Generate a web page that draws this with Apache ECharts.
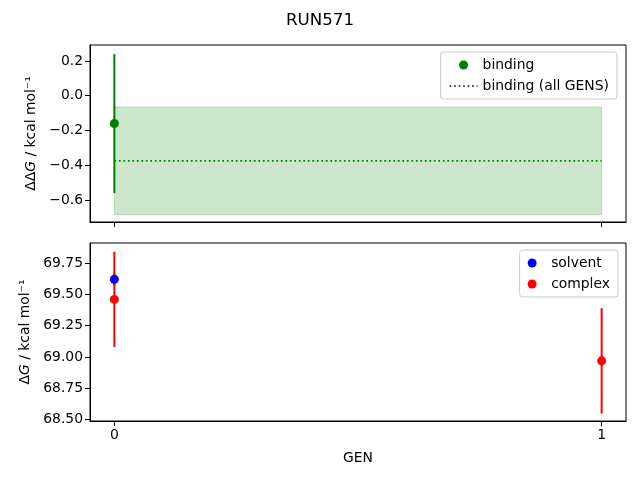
<!DOCTYPE html>
<html><head><meta charset="utf-8">
<script src="https://cdn.jsdelivr.net/npm/echarts@6/dist/echarts.min.js"></script>
<style>html,body{margin:0;padding:0;background:#fff}#c{width:640px;height:480px}</style>
</head><body><div id="c"></div>
<script>
// ---- data ----
const genTicks = [0, 1];
const bindingGen = [0];
const bindingVal = [-0.16];
const bindingErr = [0.40];
const allGensMean = -0.375;
const allGensErr = 0.31;
const allGensSpan = [0, 1];
const solventGen = [0];
const solventVal = [69.62];
const solventErr = [0.05];
const complexGen = [0, 1];
const complexVal = [69.46, 68.97];
const complexErr = [0.38, 0.42];
const topTicks = [-0.6, -0.4, -0.2, 0.0, 0.2];
const bottomTicks = [68.50, 68.75, 69.00, 69.25, 69.50, 69.75];

const FONT = 'DejaVu Sans';
const minus = s => s.replace('-', '\u2212');

function errSeries(xs, ys, es, color, xi, yi) {
  return {
    type: 'custom', xAxisIndex: xi, yAxisIndex: yi, z: 3, silent: true,
    data: xs.map((x, i) => [x, ys[i] - es[i], ys[i] + es[i]]),
    encode: { x: 0, y: [1, 2] },
    renderItem: function (params, api) {
      const p1 = api.coord([api.value(0), api.value(1)]);
      const p2 = api.coord([api.value(0), api.value(2)]);
      return { type: 'line', shape: { x1: p1[0], y1: p1[1], x2: p2[0], y2: p2[1] },
               style: { stroke: color, lineWidth: 2 } };
    }
  };
}

const axisLine = { show: true, onZero: false, lineStyle: { color: '#000', width: 1 } };
const tick = { show: true, inside: false, length: 5, lineStyle: { color: '#000' } };

const xAxisBase = {
  type: 'value', min: -0.05, max: 1.05,
  axisLine: axisLine, splitLine: { show: false },
  axisTick: Object.assign({ customValues: genTicks }, tick),
};

const nameRich = { i: { fontStyle: 'italic', fontFamily: FONT, fontSize: 13.9, color: '#000' } };

const option = {
  animation: false,
  backgroundColor: '#fff',
  title: { text: 'RUN571', left: 'center', top: 7,
    textStyle: { fontFamily: FONT, fontSize: 16.7, fontWeight: 'normal', color: '#000' } },
  grid: [
    { left: 90, top: 45, width: 536, height: 177, show: true, borderColor: '#000', borderWidth: 1, backgroundColor: 'transparent' },
    { left: 90, top: 243, width: 536, height: 178, show: true, borderColor: '#000', borderWidth: 1, backgroundColor: 'transparent' }
  ],
  xAxis: [
    Object.assign({ gridIndex: 0, axisLabel: { show: false } }, xAxisBase),
    Object.assign({ gridIndex: 1, name: 'GEN', nameLocation: 'middle', nameGap: 30,
      nameTextStyle: { fontFamily: FONT, fontSize: 13.9, color: '#000' },
      axisLabel: { show: true, customValues: genTicks, fontFamily: FONT, fontSize: 13.9, color: '#000', margin: 7 } }, xAxisBase)
  ],
  yAxis: [
    { type: 'value', gridIndex: 0, min: -0.727, max: 0.292,
      axisLine: axisLine, splitLine: { show: false },
      axisTick: Object.assign({ customValues: topTicks }, tick),
      axisLabel: { customValues: topTicks, fontFamily: FONT, fontSize: 13.9, color: '#000', margin: 7,
        formatter: v => minus(v.toFixed(1)) },
      name: '\u0394\u0394{i|G} / kcal mol\u207B\u00B9', nameLocation: 'middle', nameGap: 48, nameRotate: 90,
      nameTextStyle: { fontFamily: FONT, fontSize: 13.9, color: '#000', rich: nameRich } },
    { type: 'value', gridIndex: 1, min: 68.49, max: 69.91,
      axisLine: axisLine, splitLine: { show: false },
      axisTick: Object.assign({ customValues: bottomTicks }, tick),
      axisLabel: { customValues: bottomTicks, fontFamily: FONT, fontSize: 13.9, color: '#000', margin: 7,
        formatter: v => v.toFixed(2) },
      name: '\u0394{i|G} / kcal mol\u207B\u00B9', nameLocation: 'middle', nameGap: 56, nameRotate: 90,
      nameTextStyle: { fontFamily: FONT, fontSize: 13.9, color: '#000', rich: nameRich } }
  ],
  legend: [
    { data: [{ name: 'binding', icon: 'circle' }, { name: 'binding (all GENS)', itemStyle: { opacity: 0 } }],
      right: 23, top: 52, orient: 'vertical', itemWidth: 28, itemHeight: 9, itemGap: 7,
      padding: [6, 8, 6, 8],
      backgroundColor: 'rgba(255,255,255,0.8)', borderColor: '#ccc', borderWidth: 1, borderRadius: 3,
      textStyle: { fontFamily: FONT, fontSize: 13.9, color: '#000' } },
    { data: [{ name: 'solvent', icon: 'circle' }, { name: 'complex', icon: 'circle' }],
      right: 22, top: 250, orient: 'vertical', itemWidth: 28, itemHeight: 9, itemGap: 7,
      padding: [6, 8, 6, 8],
      backgroundColor: 'rgba(255,255,255,0.8)', borderColor: '#ccc', borderWidth: 1, borderRadius: 3,
      textStyle: { fontFamily: FONT, fontSize: 13.9, color: '#000' } }
  ],
  series: [
    { type: 'custom', name: 'band', xAxisIndex: 0, yAxisIndex: 0, z: 1, silent: true,
      data: [[allGensSpan[0], allGensSpan[1], allGensMean - allGensErr, allGensMean + allGensErr]],
      encode: { x: [0, 1], y: [2, 3] },
      renderItem: function (params, api) {
        const a = api.coord([api.value(0), api.value(3)]);
        const b = api.coord([api.value(1), api.value(2)]);
        return { type: 'rect', shape: { x: a[0], y: a[1], width: b[0] - a[0], height: b[1] - a[1] },
                 style: { fill: 'rgba(0,128,0,0.2)', stroke: 'rgba(0,128,0,0.2)', lineWidth: 1 } };
      } },
    { type: 'line', name: 'binding (all GENS)', xAxisIndex: 0, yAxisIndex: 0, z: 2,
      data: allGensSpan.map(x => [x, allGensMean]), symbol: 'none',
      lineStyle: { color: '#008000', width: 1.7, type: [1.7, 2.8] }, itemStyle: { color: '#008000' } },
    errSeries(bindingGen, bindingVal, bindingErr, '#008000', 0, 0),
    { type: 'scatter', name: 'binding', xAxisIndex: 0, yAxisIndex: 0, z: 4,
      data: bindingGen.map((x, i) => [x, bindingVal[i]]), symbolSize: 9,
      itemStyle: { color: '#008000', opacity: 1 } },
    errSeries(solventGen, solventVal, solventErr, '#0000ff', 1, 1),
    { type: 'scatter', name: 'solvent', xAxisIndex: 1, yAxisIndex: 1, z: 4,
      data: solventGen.map((x, i) => [x, solventVal[i]]), symbolSize: 9,
      itemStyle: { color: '#0000ff', opacity: 1 } },
    errSeries(complexGen, complexVal, complexErr, '#ff0000', 1, 1),
    { type: 'scatter', name: 'complex', xAxisIndex: 1, yAxisIndex: 1, z: 5,
      data: complexGen.map((x, i) => [x, complexVal[i]]), symbolSize: 9,
      itemStyle: { color: '#ff0000', opacity: 1 } }
  ]
};
const chart = echarts.init(document.getElementById('c'), null, { renderer: 'canvas' });
chart.setOption(option);
</script></body></html>
